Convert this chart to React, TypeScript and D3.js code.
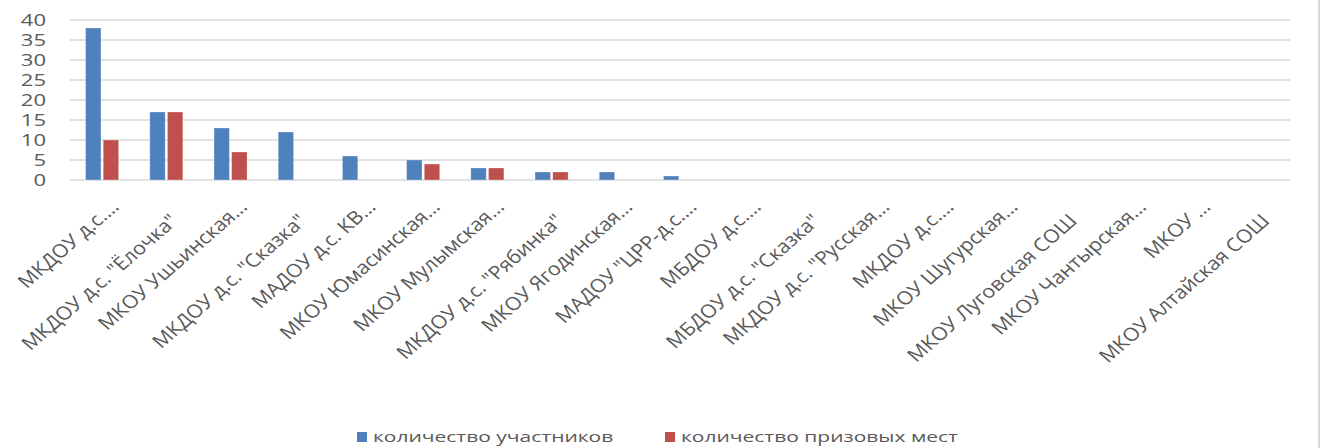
import React from "react";
import * as d3 from "d3";

const categories: string[] = [
  "МКДОУ д.с.…",
  "МКДОУ д.с. \"Ёлочка\"",
  "МКОУ Ушьинская…",
  "МКДОУ д.с. \"Сказка\"",
  "МАДОУ д.с. КВ…",
  "МКОУ Юмасинская…",
  "МКОУ Мулымская…",
  "МКДОУ д.с. \"Рябинка\"",
  "МКОУ Ягодинская…",
  "МАДОУ \"ЦРР-д.с.…",
  "МБДОУ д.с.…",
  "МБДОУ д.с. \"Сказка\"",
  "МКДОУ д.с. \"Русская…",
  "МКДОУ д.с.…",
  "МКОУ Шугурская…",
  "МКОУ Луговская СОШ",
  "МКОУ Чантырская…",
  "МКОУ …",
  "МКОУ Алтайская СОШ",
];
const participants: number[] = [38, 17, 13, 12, 6, 5, 3, 2, 2, 1, 0, 0, 0, 0, 0, 0, 0, 0, 0];
const prizes: number[] = [10, 17, 7, 0, 0, 4, 3, 2, 0, 0, 0, 0, 0, 0, 0, 0, 0, 0, 0];
const seriesNames: string[] = ["количество участников", "количество призовых мест"];
const seriesColors: string[] = ["#4F81BD", "#C0504D"];
const yTicks: number[] = [0, 5, 10, 15, 20, 25, 30, 35, 40];

export default function App() {
  const W = 1325;
  const H = 448;
  const left = 70;
  const right = 1290;
  const top = 20;
  const bottom = 180;
  const sx = 1.15;

  const x0 = d3.scaleBand<number>().domain(d3.range(categories.length)).range([left, right]).paddingInner(0.485).paddingOuter(0.2425);
  const x1 = d3.scaleBand<number>().domain([0, 1]).range([0, x0.bandwidth()]).paddingInner(0.13);
  const y = d3.scaleLinear().domain([0, 40]).range([bottom, top]);
  const series = [participants, prizes];
  const step = (right - left) / categories.length;

  return (
    <div style={{ position: "absolute", left: 0, top: 0 }}>
      <svg width={W} height={H} style={{ display: "block", background: "#fff" }}>
        {yTicks.map((t) => (
          <line key={"g" + t} x1={left} x2={right} y1={y(t)} y2={y(t)} stroke="#D9D9D9" strokeWidth={1.3} />
        ))}
        {yTicks.map((t) => (
          <text
            key={"t" + t}
            transform={`translate(46,${y(t)}) scale(1.38,1.06)`}
            textAnchor="end"
            dy="0.36em"
            fontFamily="'Open Sans', sans-serif"
            fontSize={16}
            fill="#595959"
          >
            {t}
          </text>
        ))}
        {series.map((vals, s) =>
          vals.map((v, i) =>
            v > 0 ? (
              <rect
                key={`b${s}-${i}`}
                x={(x0(i) as number) + (x1(s) as number)}
                y={y(v)}
                width={x1.bandwidth()}
                height={y(0) - y(v)}
                fill={seriesColors[s]}
                stroke="#ffffff"
                strokeOpacity={0.35}
                strokeWidth={0.8}
              />
            ) : null
          )
        )}
        <g transform={`scale(${sx},1)`}>
          {categories.map((c, i) => {
            const cx = left + step * (i + 0.5);
            const truncated = c.endsWith("…");
            const ax = truncated ? cx + 18 : cx + 13;
            const ay = truncated ? 208 : 222;
            return (
              <text
                key={"c" + i}
                transform={`translate(${ax / sx},${ay}) rotate(-45)`}
                textAnchor="end"
                fontFamily="'Open Sans', sans-serif"
                fontSize={18.5}
                fill="#595959"
              >
                {c}
              </text>
            );
          })}
        </g>
        {seriesNames.map((n, s) => {
          const lx = s === 0 ? 357 : 665;
          return (
            <g key={"l" + s}>
              <rect x={lx} y={432} width={10} height={10} fill={seriesColors[s]} />
              <text
                transform={`translate(${lx + 16},442) scale(1.5,1)`}
                fontFamily="'Open Sans', sans-serif"
                fontSize={14}
                fill="#595959"
              >
                {n}
              </text>
            </g>
          );
        })}
        <line x1={1319} x2={1319} y1={0} y2={H} stroke="#D9D9D9" strokeWidth={2} />
      </svg>
    </div>
  );
}
